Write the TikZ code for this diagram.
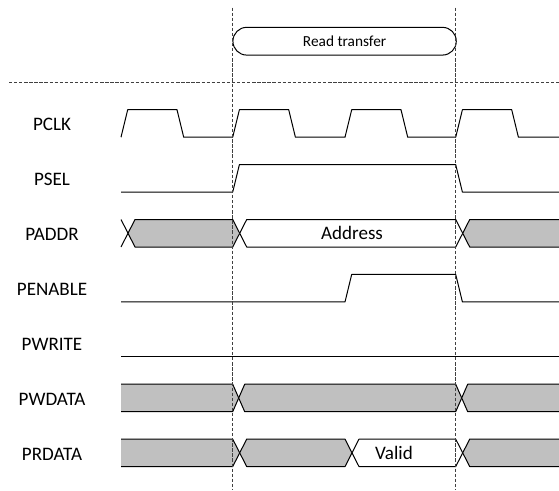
\documentclass[tikz,border=0pt]{standalone}
\usepackage{fontspec}
\setmainfont{Carlito}
\usepackage{tikz}
\usetikzlibrary{positioning,calc}
\usepackage{xcolor}
\definecolor{BusGray}{HTML}{C0C0C0}
\definecolor{WaveBlack}{HTML}{000000}
\definecolor{CycleGray}{HTML}{404040}
\tikzset{
    % Signal name on the left
    signame/.style={
        font=\fontsize{14.3}{17}\selectfont,
        anchor=center,
        inner sep=0pt
    },
    % Waveform line
    wave/.style={
        line width=0.75pt,
        draw=WaveBlack,
        line join=round
    },
    % Text inside a bus value
    buslabel/.style={
        font=\fontsize{14.3}{17}\selectfont,
        inner sep=0pt
    },
    % Transfer phase box
    phasebox/.style={
        draw=WaveBlack,
        line width=0.75pt,
        rounded corners=10.3pt,
        minimum width=167.5pt,
        minimum height=20.8pt,
        font=\fontsize{11.5}{14}\selectfont
    },
    % Cycle marker
    cyclemark/.style={
        draw=CycleGray,
        line width=0.6pt,
        dash pattern=on 2.5pt off 1.3pt
    }
}
% closed bus value: [half X width] fill, left X start, right X start, top, bottom
\newcommand{\busseg}[6][7]{%
    \filldraw[wave, fill=#2] (#3+#1,{(#5+#6)/2}) -- (#3+2*#1,#5) -- (#4,#5)
        -- (#4+#1,{(#5+#6)/2}) -- (#4,#6) -- (#3+2*#1,#6) -- cycle;}
% bus value open to the right edge
\newcommand{\busright}[5][7]{%
    \fill[#2] (#3+#1,{(#4+#5)/2}) -- (#3+2*#1,#4) -- (559,#4) -- (559,#5) -- (#3+2*#1,#5) -- cycle;
    \draw[wave] (559,#4) -- (#3+2*#1,#4) -- (#3+#1,{(#4+#5)/2}) -- (#3+2*#1,#5) -- (559,#5);}
% bus value open to the left edge
\newcommand{\busleft}[5][7]{%
    \fill[#2] (121,#4) -- (#3,#4) -- (#3+#1,{(#4+#5)/2}) -- (#3,#5) -- (121,#5) -- cycle;
    \draw[wave] (121,#4) -- (#3,#4) -- (#3+#1,{(#4+#5)/2}) -- (#3,#5) -- (121,#5);}

\begin{document}
\begin{tikzpicture}[x=0.75pt, y=-0.75pt]
        \useasboundingbox (0,0) rectangle (559,490);

        % Signal names
        \node[signame] (pclk) at (52,124.6) {PCLK};
        \node[signame] (psel) at (52,179.5) {PSEL};
        \node[signame] (paddr) at (52,234.4) {PADDR};
        \node[signame] (penable) at (52,289.3) {PENABLE};
        \node[signame] (pwrite) at (52,344.2) {PWRITE};
        \node[signame] (pwdata) at (52,399.1) {PWDATA};
        \node[signame] (prdata) at (52,454) {PRDATA};

        % PCLK
        \draw[wave] (121,137.2) \foreach \t in {121,232.7,345,455.7} {
            -- (\t,137.2) -- (\t+6.7,109.7) -- (\t+56,109.7) -- (\t+62.7,137.2)
        } -- (559,137.2);

        % PSEL
        \draw[wave] (121,192.1) -- (232.7,192.1) -- (239.4,164.6) -- (455.7,164.6)
            -- (462.4,192.1) -- (559,192.1);

        % PADDR
        \draw[wave] (121,219.5) -- (128,233.2) -- (121,247);
        \busseg{BusGray}{121}{232.7}{219.5}{247}
        \busseg{white}{232.7}{455.7}{219.5}{247}
        \busright{BusGray}{455.7}{219.5}{247}
        \node[buslabel] (addr) at (352,233.2) {Address};

        % PENABLE
        \draw[wave] (121,301.9) -- (345,301.9) -- (351.7,274.4) -- (455.7,274.4)
            -- (462.4,301.9) -- (559,301.9);

        % PWRITE
        \draw[wave] (121,356.8) -- (559,356.8);

        % PWDATA
        \busleft[6]{BusGray}{232.7}{384.2}{411.7}
        \busseg[6]{BusGray}{232.7}{455.7}{384.2}{411.7}
        \busright[6]{BusGray}{455.7}{384.2}{411.7}

        % PRDATA
        \busleft{BusGray}{232.7}{439.1}{466.6}
        \busseg{BusGray}{232.7}{345}{439.1}{466.6}
        \busseg{white}{345}{455.7}{439.1}{466.6}
        \busright{BusGray}{455.7}{439.1}{466.6}
        \node[buslabel] (valid) at (394,452.9) {Valid};

        % Transfer phase
        \node[phasebox] (read) at (344.6,41.2) {Read transfer};

        % Cycle markers
        \draw[cyclemark] (9,82) -- (559,82);
        \draw[cyclemark] (232.7,7.5) -- (232.7,490);
        \draw[cyclemark] (455.7,7.5) -- (455.7,490);
    \end{tikzpicture}
\end{document}
